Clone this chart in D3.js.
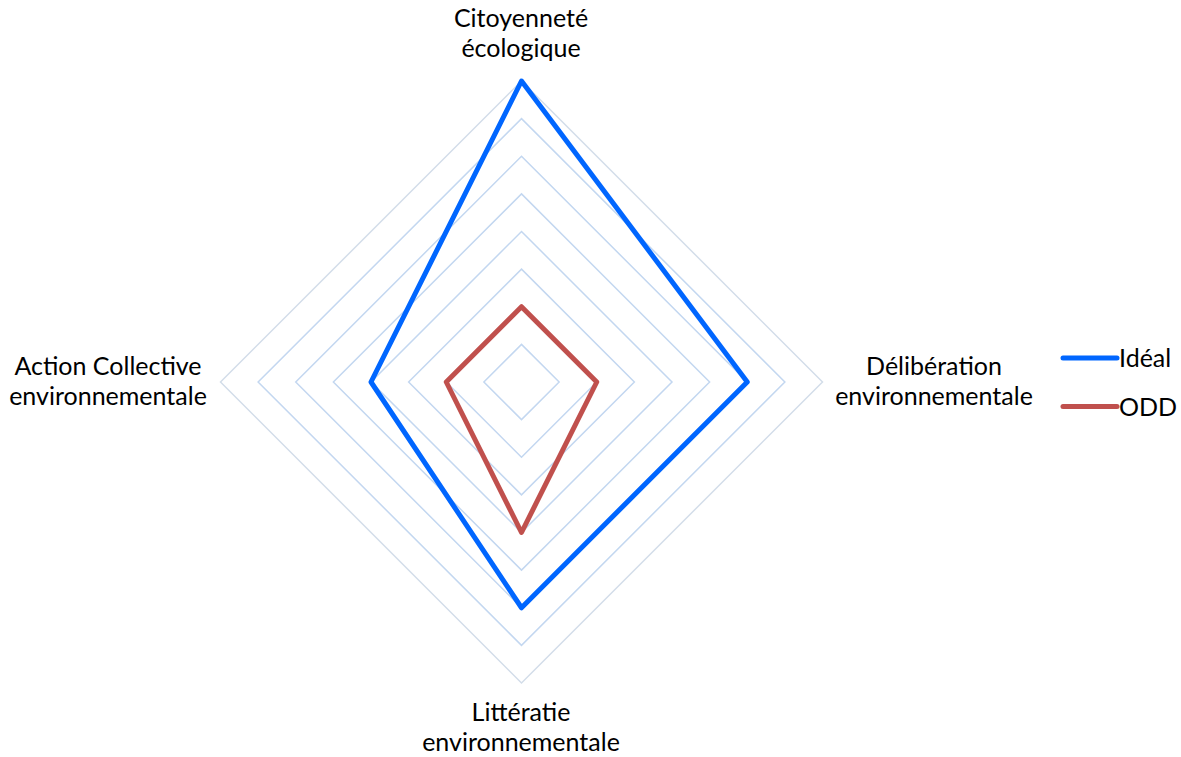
<!DOCTYPE html>
<html><head><meta charset="utf-8">
<script src="https://cdn.jsdelivr.net/npm/d3@7"></script>
<style>body{margin:0;background:#fff}svg{display:block}</style>
</head><body>
<svg id="c" width="1181" height="757"></svg>
<script>
const axes = [["Citoyenneté","écologique"],["Délibération","environnementale"],["Littératie","environnementale"],["Action Collective","environnementale"]];
const seriesNames = ["Idéal","ODD"];
const ideal = [8,6,6,4];
const odd = [2,2,4,2];
const colors = ["#0066ff","#c0504d"];
const ticks = [1,2,3,4,5,6,7,8];

const svg = d3.select("#c");
const cx = 521.5, cy = 382, R = 301;
const r = d3.scaleLinear().domain([0,8]).range([0,R]);
const ang = i => i*Math.PI/2;
const pt = (v,i) => [cx + r(v)*Math.sin(ang(i)), cy - r(v)*Math.cos(ang(i))];
const line = d3.line();

ticks.forEach(t=>{
  const pts = axes.map((a,i)=>pt(t,i));
  svg.append("path").attr("d", line(pts)+"Z").attr("fill","none")
    .attr("stroke", t===8 ? "#d3dde9" : "#c3d7f0").attr("stroke-width",1.5);
});

[ideal, odd].forEach((s,k)=>{
  const pts = s.map((v,i)=>pt(v,i));
  svg.append("path").attr("d", line(pts)+"Z").attr("fill","none")
    .attr("stroke", colors[k]).attr("stroke-width",5).attr("stroke-linejoin","round");
});

const font = "Lato, 'Open Sans', sans-serif";
const fs = 25;
const labelPos = [[521,27],[934,375],[521,721],[108,375]];
axes.forEach((a,i)=>{
  const t = svg.append("text").attr("x",labelPos[i][0]).attr("y",labelPos[i][1])
    .attr("text-anchor","middle").attr("font-family",font).attr("font-size",fs).attr("fill","#000");
  a.forEach((s,j)=>t.append("tspan").attr("x",labelPos[i][0]).attr("dy", j===0?0:30).text(s));
});

seriesNames.forEach((n,k)=>{
  const y = 358 + k*48.5;
  svg.append("line").attr("x1",1063).attr("x2",1117).attr("y1",y).attr("y2",y)
    .attr("stroke",colors[k]).attr("stroke-width",5).attr("stroke-linecap","round");
  svg.append("text").attr("x",1119).attr("y",y+9).attr("font-family",font).attr("font-size",fs).attr("fill","#000").text(n);
});
</script>
</body></html>
